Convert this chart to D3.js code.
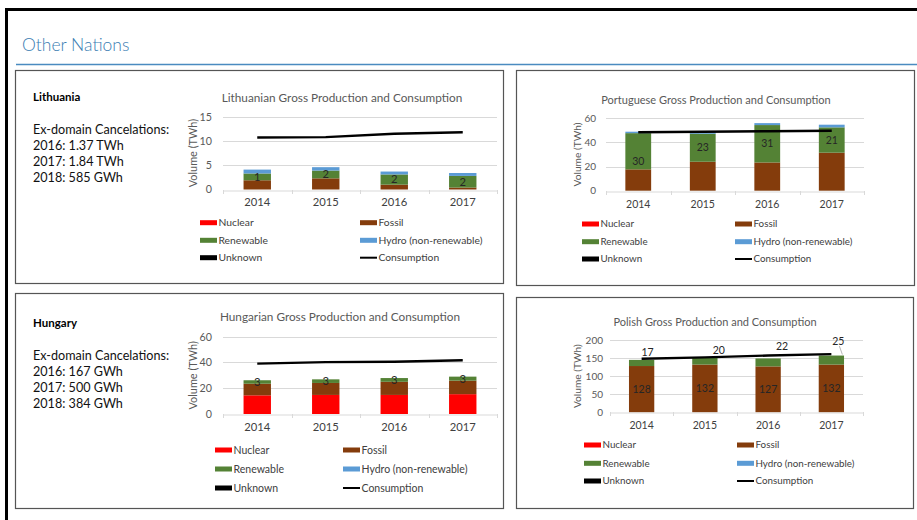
<!DOCTYPE html>
<html>
<head>
<meta charset="utf-8">
<script src="https://cdn.jsdelivr.net/npm/d3@7"></script>
<style>
  html, body { margin: 0; padding: 0; background: #fff; }
  svg { display: block; font-family: Lato, "Open Sans", sans-serif; }
</style>
</head>
<body>
<svg id="slide" width="917" height="520"></svg>
<script>
// ---- data (TWh) ----
const years = ["2014", "2015", "2016", "2017"];
const seriesKeys = ["Nuclear", "Fossil", "Renewable", "Hydro (non-renewable)", "Unknown"];
const seriesColors = ["#FF0000", "#843C0C", "#548235", "#5B9BD5", "#000000"];
const legendOrder = ["Nuclear", "Fossil", "Renewable", "Hydro (non-renewable)", "Unknown", "Consumption"];

// Lithuania
const ltNuclear = [0, 0, 0, 0];
const ltFossil = [1.9, 2.3, 1.0, 0.4];
const ltRenewable = [1.4, 1.6, 2.1, 2.4];
const ltHydro = [0.8, 0.7, 0.6, 0.6];
const ltUnknown = [0, 0, 0, 0];
const ltConsumption = [10.7, 10.8, 11.5, 11.8];
const ltTicks = [0, 5, 10, 15];
const ltCancelations = ["2016: 1.37 TWh", "2017: 1.84 TWh", "2018: 585 GWh"];

// Portugal
const ptNuclear = [0, 0, 0, 0];
const ptFossil = [17.7, 24.0, 23.4, 31.5];
const ptRenewable = [30.0, 23.2, 31.0, 21.0];
const ptHydro = [1.2, 1.4, 1.6, 2.2];
const ptUnknown = [0, 0, 0, 0];
const ptConsumption = [48.5, 48.8, 49.3, 49.7];
const ptTicks = [0, 20, 40, 60];

// Hungary
const huNuclear = [14.5, 14.8, 14.8, 15.4];
const huFossil = [9.0, 9.3, 10.2, 10.5];
const huRenewable = [2.7, 2.8, 2.9, 3.1];
const huHydro = [0, 0, 0, 0];
const huUnknown = [0, 0, 0, 0];
const huConsumption = [39.1, 40.3, 40.6, 41.7];
const huTicks = [0, 20, 40, 60];
const huCancelations = ["2016: 167 GWh", "2017: 500 GWh", "2018: 384 GWh"];

// Poland
const plNuclear = [0, 0, 0, 0];
const plFossil = [128, 132, 127, 132];
const plRenewable = [17, 20, 22, 25];
const plHydro = [0, 0, 0, 0];
const plUnknown = [0, 0, 0, 0];
const plConsumption = [148, 152, 157, 161];
const plTicks = [0, 50, 100, 150, 200];

// ---- drawing ----
const svg = d3.select("#slide");
const fmt = d3.format(".0f");

function rows(n, f, r, h, u) {
  return years.map((y, i) => ({
    year: y, "Nuclear": n[i], "Fossil": f[i], "Renewable": r[i],
    "Hydro (non-renewable)": h[i], "Unknown": u[i]
  }));
}

// slide frame and heading
svg.append("rect").attr("x", 6.5).attr("y", 9.5).attr("width", 930).attr("height", 530)
  .attr("fill", "none").attr("stroke", "#000").attr("stroke-width", 3);
svg.append("text").attr("x", 22).attr("y", 51).attr("font-size", 17.5)
  .attr("fill", "#3A7DB2").attr("font-weight", 300).text("Other Nations");
svg.append("line").attr("x1", 16).attr("x2", 917).attr("y1", 64.5).attr("y2", 64.5)
  .attr("stroke", "#4A8BC0").attr("stroke-width", 1.3);

function panelBox(x0, y0, x1, y1) {
  svg.append("rect").attr("x", x0 + 0.5).attr("y", y0 + 0.5)
    .attr("width", x1 - x0).attr("height", y1 - y0)
    .attr("fill", "#fff").attr("stroke", "#555").attr("stroke-width", 1.2);
}

function sideNote(x, yTitle, name, lines) {
  svg.append("text").attr("x", x).attr("y", yTitle).attr("font-size", 11.5)
    .attr("font-weight", 700).attr("fill", "#000").text(name);
  const all = ["Ex-domain Cancelations:"].concat(lines);
  all.forEach((t, i) => {
    svg.append("text").attr("x", x).attr("y", yTitle + 33 + i * 16)
      .attr("font-size", 12.6).attr("fill", "#111").text(t);
  });
}

function chart(cfg) {
  const g = svg.append("g");
  const data = rows(...cfg.series);
  const stacked = d3.stack().keys(seriesKeys)(data);
  const color = d3.scaleOrdinal().domain(seriesKeys).range(seriesColors);
  const k = cfg.scale;

  const x = d3.scaleBand().domain(years).range([cfg.x0, cfg.x1]).paddingInner(0.6).paddingOuter(0.3);
  const xEdge = d3.scaleBand().domain(years).range([cfg.x0, cfg.x1]);
  const y = d3.scaleLinear().domain([0, d3.max(cfg.ticks)]).range([cfg.yBase, cfg.yTop]);

  // title
  g.append("text").attr("x", cfg.titleX).attr("y", cfg.titleY).attr("text-anchor", "middle")
    .attr("font-size", 11 * k).attr("fill", "#595959").text(cfg.title);

  // gridlines
  g.selectAll(".grid").data(cfg.ticks.filter(t => t > 0)).join("line")
    .attr("x1", cfg.x0).attr("x2", cfg.x1)
    .attr("y1", d => Math.round(y(d)) + 0.5).attr("y2", d => Math.round(y(d)) + 0.5)
    .attr("stroke", "#D9D9D9").attr("stroke-width", 1);

  // y axis labels
  const yAxis = d3.axisLeft(y).tickValues(cfg.ticks).tickSize(0).tickPadding(cfg.yPad);
  const ya = g.append("g").attr("transform", `translate(${cfg.x0},0)`).call(yAxis);
  ya.select(".domain").remove();
  ya.selectAll("text").attr("font-size", 10 * k).attr("fill", "#595959")
    .attr("font-family", "Lato, sans-serif");

  // y title
  g.append("text")
    .attr("transform", `translate(${cfg.yTitleX},${(cfg.yBase + cfg.yTop) / 2}) rotate(-90)`)
    .attr("text-anchor", "middle").attr("dy", "0.35em")
    .attr("font-size", 10.2 * k).attr("fill", "#595959").text("Volume (TWh)");

  // stacked bars
  g.selectAll(".layer").data(stacked).join("g")
    .attr("fill", d => color(d.key))
    .selectAll("rect").data(d => d).join("rect")
    .attr("x", d => x(d.data.year)).attr("width", x.bandwidth())
    .attr("y", d => y(d[1])).attr("height", d => Math.max(0, y(d[0]) - y(d[1])));

  // category axis
  const xAxis = d3.axisBottom(xEdge).tickSize(0).tickPadding(cfg.xPad);
  const xa = g.append("g").attr("transform", `translate(0,${Math.round(cfg.yBase) + 0.5})`).call(xAxis);
  xa.select(".domain").attr("stroke", "#D9D9D9");
  xa.selectAll("text").attr("font-size", 10.5 * k).attr("fill", "#404040")
    .attr("font-family", "Lato, sans-serif");
  // tick marks at category boundaries
  const edges = years.map(d => xEdge(d)).concat([cfg.x1]);
  g.selectAll(".edge").data(edges).join("line")
    .attr("x1", d => Math.round(d) + 0.5).attr("x2", d => Math.round(d) + 0.5)
    .attr("y1", Math.round(cfg.yBase)).attr("y2", Math.round(cfg.yBase) + 4)
    .attr("stroke", "#D9D9D9");

  // consumption line
  const line = d3.line().x((d, i) => x(years[i]) + x.bandwidth() / 2).y(d => y(d));
  g.append("path").datum(cfg.consumption).attr("d", line)
    .attr("fill", "none").attr("stroke", "#000").attr("stroke-width", 2.4);

  // data labels
  cfg.labelled.forEach(key => {
    const layer = stacked.find(s => s.key === key);
    layer.forEach((d, i) => {
      const v = d[1] - d[0];
      const shift = cfg.labelShift(key, i);
      const lx = x(d.data.year) + x.bandwidth() / 2 + shift[0];
      const ly = y((d[0] + d[1]) / 2) + shift[1];
      g.append("text").attr("x", lx).attr("y", ly).attr("dy", "0.35em")
        .attr("text-anchor", "middle").attr("font-size", 10.5 * k).attr("fill", "#262626")
        .text(fmt(v));
      if (shift[2]) {
        g.append("line").attr("x1", lx + 1).attr("y1", ly + 5)
          .attr("x2", lx + 4).attr("y2", y(d[1]) - 1)
          .attr("stroke", "#A6A6A6").attr("stroke-width", 0.8);
      }
    });
  });

  // legend
  const cols = [cfg.legX1, cfg.legX2];
  legendOrder.forEach((name, i) => {
    const lx = cols[i % 2];
    const ly = cfg.legRows[Math.floor(i / 2)];
    if (name === "Consumption") {
      g.append("line").attr("x1", lx).attr("x2", lx + 17).attr("y1", ly).attr("y2", ly)
        .attr("stroke", "#000").attr("stroke-width", 2);
    } else {
      g.append("rect").attr("x", lx).attr("y", ly - 2.5).attr("width", 17).attr("height", 5)
        .attr("fill", color(name));
    }
    g.append("text").attr("x", lx + 18.5).attr("y", ly).attr("dy", "0.35em")
      .attr("font-size", cfg.legFont).attr("fill", "#404040").text(name);
  });
}

const noShift = () => [0, 0];

// Lithuania panel
panelBox(15, 70, 503, 283);
sideNote(33, 101, "Lithuania", ltCancelations);
chart({
  series: [ltNuclear, ltFossil, ltRenewable, ltHydro, ltUnknown],
  consumption: ltConsumption, ticks: ltTicks, scale: 1.07,
  title: "Lithuanian Gross Production and Consumption", titleX: 342, titleY: 102,
  x0: 223, x1: 497, yBase: 189.5, yTop: 116.7, yPad: 11, xPad: 8, yTitleX: 193,
  labelled: ["Renewable"], labelShift: noShift,
  legX1: 200, legX2: 360, legRows: [222.7, 240.3, 257.7], legFont: 10.3
});

// Portugal panel
panelBox(516, 70, 914, 285);
chart({
  series: [ptNuclear, ptFossil, ptRenewable, ptHydro, ptUnknown],
  consumption: ptConsumption, ticks: ptTicks, scale: 1,
  title: "Portuguese Gross Production and Consumption", titleX: 716, titleY: 104,
  x0: 606, x1: 864, yBase: 190.7, yTop: 118.3, yPad: 10, xPad: 9, yTitleX: 577,
  labelled: ["Renewable"], labelShift: (key, i) => (i === 0 ? [0, 10] : [0, 0]),
  legX1: 582, legX2: 735, legRows: [224, 241.7, 259], legFont: 9.8
});

// Hungary panel
panelBox(15, 293, 503, 508);
sideNote(33, 327, "Hungary", huCancelations);
chart({
  series: [huNuclear, huFossil, huRenewable, huHydro, huUnknown],
  consumption: huConsumption, ticks: huTicks, scale: 1.07,
  title: "Hungarian Gross Production and Consumption", titleX: 340, titleY: 320.5,
  x0: 223, x1: 497, yBase: 414, yTop: 336.7, yPad: 11, xPad: 9, yTitleX: 193,
  labelled: ["Renewable"], labelShift: noShift,
  legX1: 215, legX2: 343, legRows: [450, 469, 488], legFont: 10.5
});

// Poland panel
panelBox(516, 297, 913, 508);
const plLabelNudge = [[6, -11], [14, -11], [14, -16], [7, -19, true]];
chart({
  series: [plNuclear, plFossil, plRenewable, plHydro, plUnknown],
  consumption: plConsumption, ticks: plTicks, scale: 1,
  title: "Polish Gross Production and Consumption", titleX: 715, titleY: 325.5,
  x0: 610, x1: 863, yBase: 412.3, yTop: 340, yPad: 7, xPad: 9, yTitleX: 577,
  labelled: ["Fossil", "Renewable"],
  labelShift: (key, i) => (key === "Renewable" ? plLabelNudge[i] : [0, 0]),
  legX1: 584, legX2: 737, legRows: [445, 463.3, 481], legFont: 9.8
});
</script>
</body>
</html>
